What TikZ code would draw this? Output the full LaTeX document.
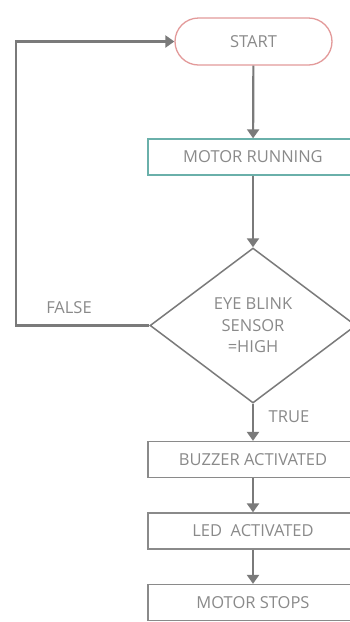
\documentclass[tikz,border=0pt]{standalone}
\usepackage{fontspec}
\setmainfont{Open Sans}
\usetikzlibrary{arrows.meta,shapes.geometric,shapes.misc}
\definecolor{linec}{HTML}{7A7A7A}
\definecolor{textc}{HTML}{8A8A8A}
\definecolor{startc}{HTML}{E39A9A}
\definecolor{tealc}{HTML}{6AB0AA}
\definecolor{boxc}{HTML}{8A8A8A}
\tikzset{
  x=1pt, y=-1pt,
  every node/.style={font=\fontsize{16.5}{21.5}\selectfont, text=textc},
  procbox/.style={draw=boxc, line width=1.3pt, fill=white, rectangle, minimum width=210pt, minimum height=36pt, inner sep=0pt},
  startbox/.style={draw=startc, line width=1.3pt, fill=white, rounded rectangle, minimum width=157pt, minimum height=47pt, inner sep=0pt},
  decbox/.style={draw=linec, line width=1.5pt, fill=white, diamond, minimum width=206pt, minimum height=155pt, inner sep=0pt, align=center},
  flow/.style={draw=linec, line width=2.2pt, -{Triangle[length=9pt,width=12pt]}},
  lbl/.style={text=textc}
}
\begin{document}
\begin{tikzpicture}
\clip (0,0) rectangle (350,622);
\fill[white] (0,0) rectangle (350,622);
\node[startbox] (start) at (253.5,41.5) {START};
\node[procbox, draw=tealc] (motor) at (253,157) {MOTOR RUNNING};
\node[decbox] (dec) at (253,325.5) {EYE BLINK\\SENSOR\\=HIGH};
\node[procbox] (buzz) at (253,459.5) {BUZZER ACTIVATED};
\node[procbox] (led) at (253,531) {LED\ \ ACTIVATED};
\node[procbox] (stop) at (253,602.5) {MOTOR STOPS};
\coordinate (c1) at (16,325.5);
\coordinate (c2) at (16,41.5);
\node[lbl] (false) at (69,308) {FALSE};
\node[lbl] (true) at (289,417) {TRUE};
\draw[flow] (start) -- (motor);
\draw[flow] (motor) -- (dec);
\draw[flow] (dec) -- (buzz);
\draw[flow] (buzz) -- (led);
\draw[flow] (led) -- (stop);
\draw[flow] (dec.west) -- (c1) -- (c2) -- (start.west);
\end{tikzpicture}
\end{document}
